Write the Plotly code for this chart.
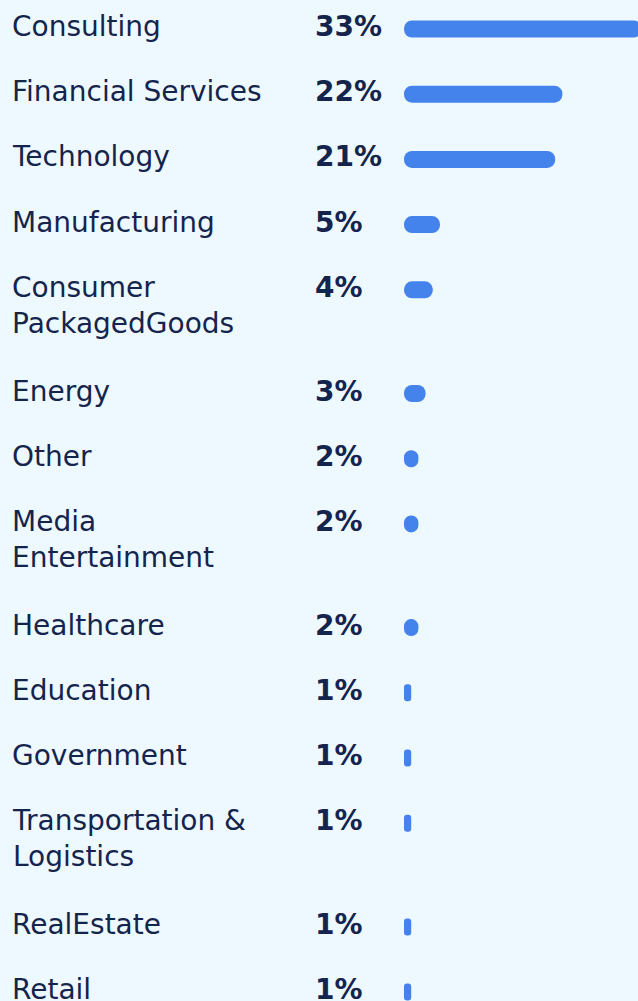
import plotly.graph_objects as go

# Industry breakdown
industries = [
    "Consulting", "Financial Services", "Technology", "Manufacturing",
    "Consumer<br>PackagedGoods", "Energy", "Other", "Media<br>Entertainment",
    "Healthcare", "Education", "Government", "Transportation &<br>Logistics",
    "RealEstate", "Retail",
]
shares = [33, 22, 21, 5, 4, 3, 2, 2, 2, 1, 1, 1, 1, 1]

BG = "#edf9ff"
INK = "#15244c"
BAR = "#4583ec"
FONT = "DejaVu Sans"

W, H = 638, 1001
PX_PER_PCT = 7.2
BAR_LEFT = 404
LABEL_X = 10
PCT_X = 313

# vertical layout: one row per industry, wrapped labels take extra room
first_row = 27.0
row_step = 65.2
extra_line = 38.5
rows = []
y = first_row
for name in industries:
    rows.append(y)
    y += row_step + extra_line * name.count("<br>")

bar_y = [r + 2 for r in rows]

fig = go.Figure()
# an explicit base makes plotly round both ends of each bar
fig.add_trace(go.Bar(
    orientation="h", y=bar_y, x=shares, base=[0] * len(shares),
    width=17, marker=dict(color=BAR, cornerradius=8.5, line=dict(width=0)),
    hoverinfo="skip",
))

annotations = []
for name, v, r in zip(industries, shares, rows):
    annotations.append(dict(
        x=LABEL_X / W, xref="paper", xanchor="left",
        y=r, yref="y", yanchor="top", yshift=19,
        text=name, showarrow=False, align="left",
        font=dict(family=FONT, size=28, color=INK),
    ))
    annotations.append(dict(
        x=PCT_X / W, xref="paper", xanchor="left",
        y=r, yref="y", yanchor="top", yshift=19,
        text=f"<b>{v}%</b>", showarrow=False, align="left",
        font=dict(family=FONT, size=28, color=INK),
    ))

fig.update_layout(
    width=W, height=H,
    margin=dict(l=0, r=0, t=0, b=0),
    paper_bgcolor=BG, plot_bgcolor=BG,
    showlegend=False,
    xaxis=dict(range=[-BAR_LEFT / PX_PER_PCT, (W - BAR_LEFT) / PX_PER_PCT],
               visible=False, fixedrange=True),
    yaxis=dict(range=[H, 0], visible=False, fixedrange=True),
    annotations=annotations,
)

fig.write_html("out.html")
